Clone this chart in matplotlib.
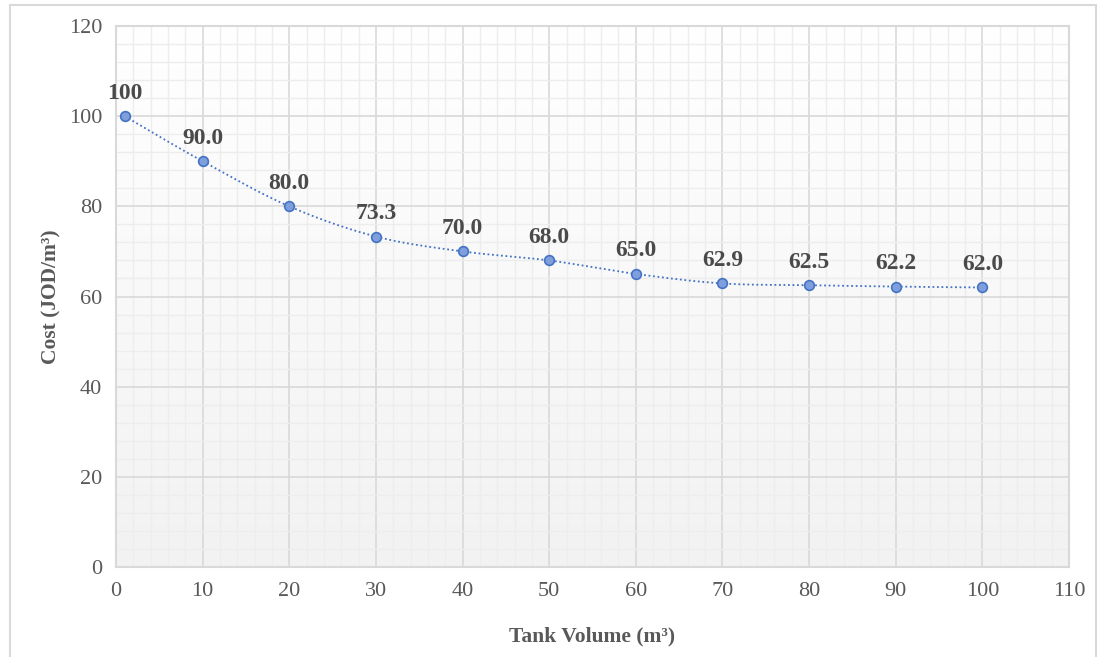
import numpy as np
import matplotlib
matplotlib.use('Agg')
from matplotlib import pyplot as plt
from matplotlib.ticker import MultipleLocator
from matplotlib.patches import Rectangle

plt.rcParams['font.family'] = ['Liberation Serif', 'DejaVu Serif']

# datos
volume = [1, 10, 20, 30, 40, 50, 60, 70, 80, 90, 100]
cost = [100, 90.0, 80.0, 73.3, 70.0, 68.0, 65.0, 62.9, 62.5, 62.2, 62.0]
labels = ['100', '90.0', '80.0', '73.3', '70.0', '68.0', '65.0', '62.9', '62.5', '62.2', '62.0']


def smooth(x, y, n=30):
    # curva tipo Catmull-Rom (como la linea suavizada de Excel)
    x = np.asarray(x, float)
    y = np.asarray(y, float)
    px = np.concatenate([[x[0]], x, [x[-1]]])
    py = np.concatenate([[y[0]], y, [y[-1]]])
    xs, ys = [], []
    t = np.linspace(0, 1, n)
    for i in range(1, len(px) - 2):
        p0 = np.array([px[i], py[i]])
        p3 = np.array([px[i + 1], py[i + 1]])
        c1 = p0 + (np.array([px[i + 1], py[i + 1]]) - np.array([px[i - 1], py[i - 1]])) / 6
        c2 = p3 - (np.array([px[i + 2], py[i + 2]]) - np.array([px[i], py[i]])) / 6
        b = ((1 - t) ** 3)[:, None] * p0 + (3 * (1 - t) ** 2 * t)[:, None] * c1 \
            + (3 * (1 - t) * t ** 2)[:, None] * c2 + (t ** 3)[:, None] * p3
        xs.extend(b[:, 0])
        ys.extend(b[:, 1])
    return xs, ys


fig = plt.figure(figsize=(11.01, 6.57), dpi=100)
W, H = 1101, 657
ax = fig.add_axes([116 / W, 1 - 567 / H, (1069 - 116) / W, (567 - 26) / H])

# borde del area del grafico
fig.patches.append(Rectangle((10 / W, -0.05), (1096 - 10) / W, 1 - 5 / H + 0.05,
                             transform=fig.transFigure, fill=False,
                             edgecolor='#d9d9d9', lw=1.5))

# fondo degradado
grad = np.linspace(1, 0, 256).reshape(-1, 1)
ax.imshow(grad, extent=[0, 1, 0, 1], transform=ax.transAxes, aspect='auto',
          cmap=matplotlib.colors.LinearSegmentedColormap.from_list('g', ['#f2f2f2', '#ffffff']),
          zorder=0)

ax.set_xlim(0, 110)
ax.set_ylim(0, 120)
ax.xaxis.set_major_locator(MultipleLocator(10))
ax.xaxis.set_minor_locator(MultipleLocator(2))
ax.yaxis.set_major_locator(MultipleLocator(20))
ax.yaxis.set_minor_locator(MultipleLocator(4))
ax.grid(which='major', color='#d9d9d9', lw=1.2, zorder=1)
ax.grid(which='minor', color='#ededed', lw=1.0, zorder=1)
ax.set_axisbelow(True)
ax.tick_params(which='both', length=0, labelsize=16, labelcolor='#595959')
ax.tick_params(axis='x', pad=11)
ax.tick_params(axis='y', pad=10)
for s in ax.spines.values():
    s.set_color('#d9d9d9')
    s.set_linewidth(1.5)

sx, sy = smooth(volume, cost)
ax.plot(sx, sy, ls=(0, (1, 1.5)), color='#4472c4', lw=1.3, zorder=3)
ax.plot(volume, cost, 'o', ms=7, mfc='#7f9fdc', mec='#4472c4', mew=1.2, zorder=4)
for x, y, t in zip(volume, cost, labels):
    ax.annotate(t, (x, y), xytext=(0, 9), textcoords='offset points', ha='center',
                va='bottom', fontsize=17, fontweight='bold', color='#4a4a4a', zorder=5)

ax.set_xlabel('Tank Volume (m³)', fontsize=15.5, fontweight='bold', color='#595959', labelpad=18)
ax.set_ylabel('Cost (JOD/m³)', fontsize=15.5, fontweight='bold', color='#595959', labelpad=5)

fig.savefig('out.png', dpi=100)
